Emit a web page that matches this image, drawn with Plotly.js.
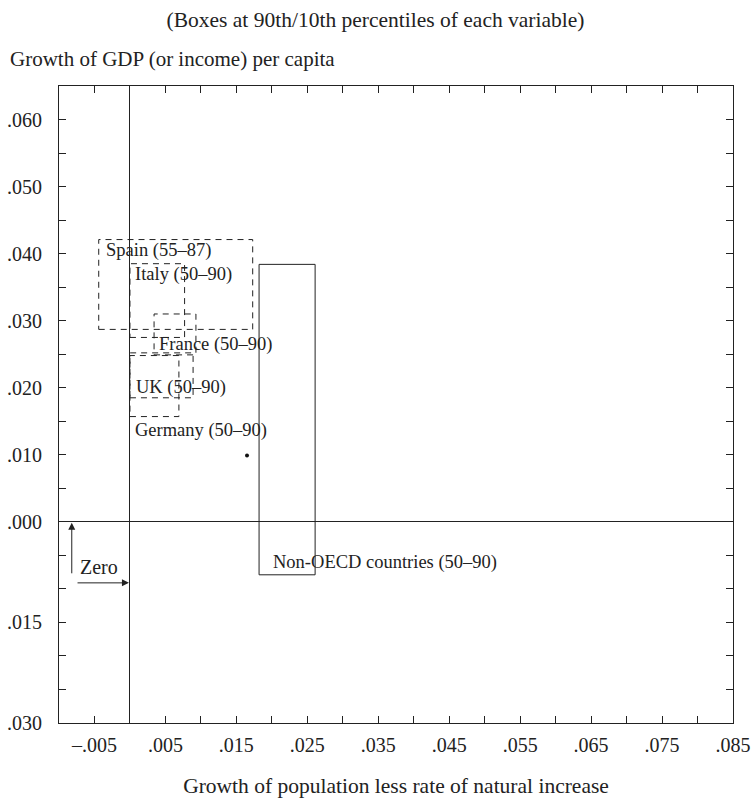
<!DOCTYPE html>
<html>
<head>
<meta charset="utf-8">
<script src="https://cdn.plot.ly/plotly-3.0.1.min.js"></script>
<style>html,body{margin:0;padding:0;background:#fff}#chart{width:751px;height:801px}</style>
</head>
<body>
<div id="chart"></div>
<script>
// ---- data ----
const boxNames = ['Spain (55–87)', 'Italy (50–90)', 'France (50–90)', 'UK (50–90)', 'Germany (50–90)', 'Non-OECD countries (50–90)'];
const boxXLow  = [-0.0044, 0.0000, 0.0034, 0.0000, 0.0000, 0.0182];
const boxXHigh = [ 0.0173, 0.0077, 0.0093, 0.0089, 0.0069, 0.0261];
const boxYLow  = [ 0.0287, 0.0275, 0.0249, 0.0185, 0.0157, -0.0079];
const boxYHigh = [ 0.0421, 0.0385, 0.0310, 0.0252, 0.0248, 0.0384];
const pointX = [0.0165];
const pointY = [0.0099];

const xTickVals = [-0.010,-0.005,0,0.005,0.010,0.015,0.020,0.025,0.030,0.035,0.040,0.045,0.050,0.055,0.060,0.065,0.070,0.075,0.080,0.085];
const xTickText = ['','–.005','','.005','','.015','','.025','','.035','','.045','','.055','','.065','','.075','','.085'];
const yTickVals = [-0.030,-0.025,-0.020,-0.015,-0.010,-0.005,0,0.005,0.010,0.015,0.020,0.025,0.030,0.035,0.040,0.045,0.050,0.055,0.060,0.065];
const yTickText = ['.030','','','.015','','','.000','','.010','','.020','','.030','','.040','','.050','','.060',''];

// ---- styles / label placement ----
const boxDash = ['6px,5px','6px,5px','6px,5px','6px,5px','6px,5px','solid'];
const labelAt = [[-0.0037,0.0404],[0.0004,0.0369],[0.0038,0.0264],[0.0006,0.0200],[0.0004,0.0136],[0.0199,-0.0060]];

const FONT = 'Liberation Serif, Times New Roman, serif';
const INK = '#222';
const traces = [];
boxNames.forEach((n,i)=>{
  traces.push({
    type:'scatter', mode:'lines', name:n, showlegend:false, hoverinfo:'skip',
    x:[boxXLow[i], boxXHigh[i], boxXHigh[i], boxXLow[i], boxXLow[i]],
    y:[boxYLow[i], boxYLow[i], boxYHigh[i], boxYHigh[i], boxYLow[i]],
    line:{color:INK, width:1, dash:boxDash[i]}
  });
});
traces.push({type:'scatter', mode:'markers', x:pointX, y:pointY, showlegend:false,
  marker:{color:'#111', size:4}});

const annotations = boxNames.map((n,i)=>({
  x:labelAt[i][0], y:labelAt[i][1], xref:'x', yref:'y', text:n, showarrow:false,
  xanchor:'left', yanchor:'middle', font:{family:FONT, size:18.5, color:INK}
}));
// Zero markers
annotations.push({x:-0.0082, y:0.0000, ax:-0.0082, ay:-0.0079, xref:'x', yref:'y', axref:'x', ayref:'y',
  text:'', showarrow:true, arrowhead:2, arrowsize:1.4, arrowwidth:1, arrowcolor:INK, standoff:1});
annotations.push({x:0.0000, y:-0.0091, ax:-0.0076, ay:-0.0091, xref:'x', yref:'y', axref:'x', ayref:'y',
  text:'', showarrow:true, arrowhead:2, arrowsize:1.4, arrowwidth:1, arrowcolor:INK, standoff:1});
annotations.push({x:-0.0044, y:-0.0067, xref:'x', yref:'y', text:'Zero', showarrow:false,
  xanchor:'center', yanchor:'middle', font:{family:FONT, size:20, color:INK}});
// y-axis title (horizontal, top-left)
annotations.push({x:-51/674, y:(723-59)/637, xref:'paper', yref:'paper', text:'Growth of GDP (or income) per capita',
  showarrow:false, xanchor:'left', yanchor:'middle', font:{family:FONT, size:21, color:INK}});

const layout = {
  width:751, height:801,
  margin:{l:59, r:18, t:86, b:78},
  paper_bgcolor:'#fff', plot_bgcolor:'#fff',
  font:{family:FONT, size:20, color:INK},
  title:{text:'(Boxes at 90th/10th percentiles of each variable)', x:0.5, xanchor:'center', y:1-19/801, yanchor:'middle',
    font:{family:FONT, size:21.5, color:INK}},
  xaxis:{range:[-0.010,0.085], tickvals:xTickVals, ticktext:xTickText, ticks:'inside', ticklen:7, tickcolor:INK,
    showline:true, linecolor:INK, linewidth:1, mirror:'ticks', showgrid:false,
    zeroline:true, zerolinecolor:INK, zerolinewidth:1, ticklabelstandoff:4,
    tickfont:{family:FONT, size:20, color:INK},
    title:{text:'Growth of population less rate of natural increase', standoff:22, font:{family:FONT, size:21.5, color:INK}}},
  yaxis:{range:[-0.030,0.065], tickvals:yTickVals, ticktext:yTickText, ticks:'inside', ticklen:7, tickcolor:INK,
    showline:true, linecolor:INK, linewidth:1, mirror:'ticks', showgrid:false,
    zeroline:true, zerolinecolor:INK, zerolinewidth:1, ticklabelstandoff:12,
    tickfont:{family:FONT, size:20, color:INK}},
  annotations:annotations,
  showlegend:false
};
Plotly.newPlot('chart', traces, layout, {displayModeBar:false, staticPlot:true});
</script>
</body>
</html>
